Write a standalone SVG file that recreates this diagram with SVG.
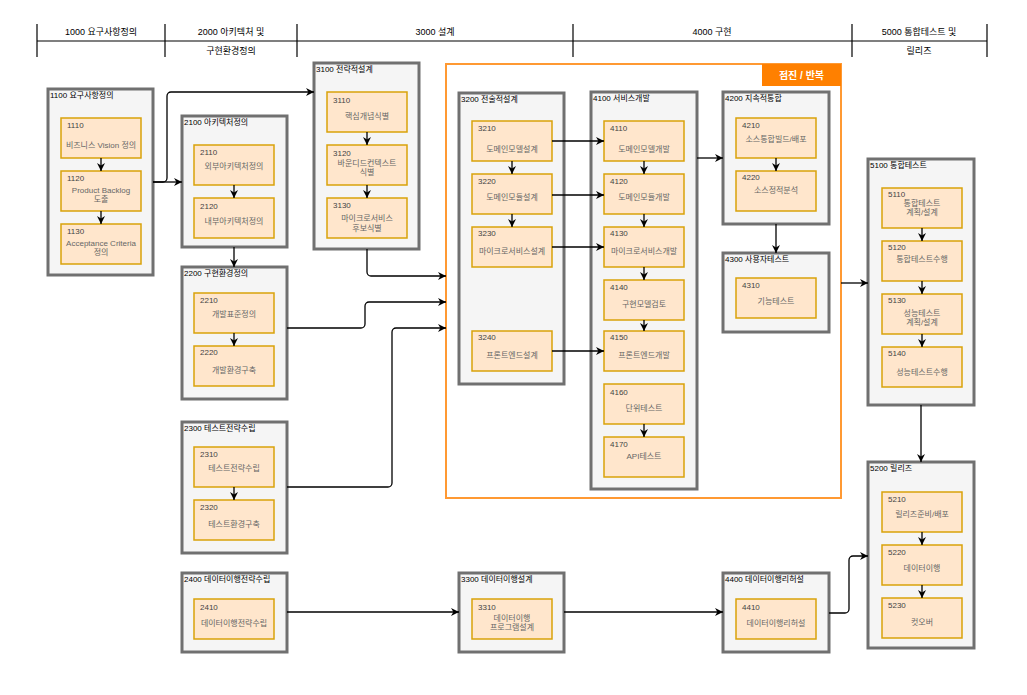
<svg xmlns="http://www.w3.org/2000/svg" width="1027" height="695" viewBox="0 0 1027 695">
  <style>
    text { font-family: "Liberation Sans", "Noto Sans CJK KR", sans-serif; dominant-baseline: central; }
    .hdr { font-size: 9px; fill: #000; text-anchor: middle; }
    .hline { stroke: #000; stroke-width: 1.2; fill: none; }
    .grp { fill: #f5f5f5; stroke: #707070; stroke-width: 3; }
    .gt { font-size: 8px; fill: #000; }
    .box { fill: #ffe6cc; stroke: #d9a20a; stroke-width: 1.5; }
    .num { font-size: 8px; fill: #444; }
    .lbl { font-size: 8px; fill: #666; text-anchor: middle; }
    .edge { stroke: #000; stroke-width: 1.3; fill: none; marker-end: url(#arrow); }
    .frame { fill: none; stroke: #ff9933; stroke-width: 2; }
    .tag { fill: #ff8000; }
    .tagt { font-size: 10px; font-weight: bold; fill: #fff; text-anchor: middle; }
  </style>
  <defs>
    <marker id="arrow" viewBox="0 0 10 10" refX="10" refY="5" markerWidth="8" markerHeight="8" markerUnits="userSpaceOnUse" orient="auto">
      <path d="M0,0 L10,5 L0,10 L3,5 z" fill="#000"/>
    </marker>
  </defs>
  <rect width="1027" height="695" fill="#fff"/>

  <!-- phase header -->
  <g id="header">
    <line class="hline" x1="37" y1="41" x2="987" y2="41"/>
    <line class="hline" x1="37" y1="24" x2="37" y2="57"/>
    <line class="hline" x1="165" y1="24" x2="165" y2="57"/>
    <line class="hline" x1="297" y1="24" x2="297" y2="57"/>
    <line class="hline" x1="573" y1="24" x2="573" y2="57"/>
    <line class="hline" x1="852" y1="24" x2="852" y2="57"/>
    <line class="hline" x1="987" y1="24" x2="987" y2="57"/>
    <text class="hdr" x="101" y="32">1000 요구사항정의</text>
    <text class="hdr" x="231" y="32">2000 아키텍처 및</text>
    <text class="hdr" x="231" y="51">구현환경정의</text>
    <text class="hdr" x="435" y="32">3000 설계</text>
    <text class="hdr" x="712" y="32">4000 구현</text>
    <text class="hdr" x="919" y="32">5000 통합테스트 및</text>
    <text class="hdr" x="919" y="51">릴리즈</text>
  </g>

  <!-- incremental / iterative frame -->
  <g id="iteration-frame">
    <rect class="frame" x="446" y="64" width="395" height="434"/>
    <rect class="tag" x="762" y="64" width="79" height="22"/>
    <text class="tagt" x="801.5" y="75">점진 / 반복</text>
  </g>

  <!-- 1000 -->
  <g id="g1100">
    <rect class="grp" x="48" y="89" width="105" height="186"/>
    <text class="gt" x="50" y="95">1100 요구사항정의</text>
    <g id="n1110"><rect class="box" x="61" y="118" width="80" height="40"/><text class="num" x="67" y="125">1110</text><text class="lbl" x="101" y="145">비즈니스 Vision 정의</text></g>
    <g id="n1120"><rect class="box" x="61" y="171" width="80" height="40"/><text class="num" x="67" y="178">1120</text><text class="lbl" x="101" y="190">Product Backlog</text><text class="lbl" x="101" y="199">도출</text></g>
    <g id="n1130"><rect class="box" x="61" y="224" width="80" height="40"/><text class="num" x="67" y="231">1130</text><text class="lbl" x="101" y="243">Acceptance Criteria</text><text class="lbl" x="101" y="252">정의</text></g>
  </g>

  <!-- 2000 -->
  <g id="g2100">
    <rect class="grp" x="182" y="116" width="105" height="131"/>
    <text class="gt" x="184" y="122">2100 아키텍처정의</text>
    <g id="n2110"><rect class="box" x="194" y="145" width="80" height="40"/><text class="num" x="200" y="152">2110</text><text class="lbl" x="234" y="166">외부아키텍처정의</text></g>
    <g id="n2120"><rect class="box" x="194" y="198" width="80" height="40"/><text class="num" x="200" y="206">2120</text><text class="lbl" x="234" y="221">내부아키텍처정의</text></g>
  </g>
  <g id="g2200">
    <rect class="grp" x="182" y="267" width="105" height="132"/>
    <text class="gt" x="184" y="273">2200 구현환경정의</text>
    <g id="n2210"><rect class="box" x="194" y="293" width="80" height="40"/><text class="num" x="200" y="300">2210</text><text class="lbl" x="234" y="314">개발표준정의</text></g>
    <g id="n2220"><rect class="box" x="194" y="346" width="80" height="40"/><text class="num" x="200" y="352">2220</text><text class="lbl" x="234" y="370">개발환경구축</text></g>
  </g>
  <g id="g2300">
    <rect class="grp" x="182" y="422" width="105" height="131"/>
    <text class="gt" x="184" y="428">2300 테스트전략수립</text>
    <g id="n2310"><rect class="box" x="194" y="447" width="80" height="40"/><text class="num" x="200" y="454">2310</text><text class="lbl" x="234" y="468">테스트전략수립</text></g>
    <g id="n2320"><rect class="box" x="194" y="500" width="80" height="40"/><text class="num" x="200" y="507">2320</text><text class="lbl" x="234" y="524">테스트환경구축</text></g>
  </g>
  <g id="g2400">
    <rect class="grp" x="182" y="573" width="105" height="79"/>
    <text class="gt" x="184" y="579">2400 데이터이행전략수립</text>
    <g id="n2410"><rect class="box" x="194" y="599" width="80" height="40"/><text class="num" x="200" y="607">2410</text><text class="lbl" x="234" y="623">데이터이행전략수립</text></g>
  </g>

  <!-- 3000 -->
  <g id="g3100">
    <rect class="grp" x="314" y="63" width="105" height="186"/>
    <text class="gt" x="316" y="69">3100 전략적설계</text>
    <g id="n3110"><rect class="box" x="327" y="92" width="80" height="40"/><text class="num" x="333" y="100">3110</text><text class="lbl" x="367" y="116">핵심개념식별</text></g>
    <g id="n3120"><rect class="box" x="327" y="145" width="80" height="40"/><text class="num" x="333" y="153">3120</text><text class="lbl" x="367" y="163">바운디드컨텍스트</text><text class="lbl" x="367" y="172">식별</text></g>
    <g id="n3130"><rect class="box" x="327" y="198" width="80" height="40"/><text class="num" x="333" y="205">3130</text><text class="lbl" x="367" y="218">마이크로서비스</text><text class="lbl" x="367" y="228">후보식별</text></g>
  </g>
  <g id="g3200">
    <rect class="grp" x="459" y="93" width="105" height="291"/>
    <text class="gt" x="461" y="99">3200 전술적설계</text>
    <g id="n3210"><rect class="box" x="472" y="121" width="80" height="40"/><text class="num" x="478" y="128">3210</text><text class="lbl" x="512" y="149">도메인모델설계</text></g>
    <g id="n3220"><rect class="box" x="472" y="174" width="80" height="40"/><text class="num" x="478" y="181">3220</text><text class="lbl" x="512" y="197">도메인모듈설계</text></g>
    <g id="n3230"><rect class="box" x="472" y="227" width="80" height="40"/><text class="num" x="478" y="233">3230</text><text class="lbl" x="512" y="251">마이크로서비스설계</text></g>
    <g id="n3240"><rect class="box" x="472" y="331" width="80" height="40"/><text class="num" x="478" y="337">3240</text><text class="lbl" x="512" y="355">프론트엔드설계</text></g>
  </g>
  <g id="g3300">
    <rect class="grp" x="459" y="573" width="105" height="79"/>
    <text class="gt" x="461" y="579">3300 데이터이행설계</text>
    <g id="n3310"><rect class="box" x="472" y="599" width="80" height="40"/><text class="num" x="478" y="607">3310</text><text class="lbl" x="512" y="618">데이터이행</text><text class="lbl" x="512" y="627">프로그램설계</text></g>
  </g>

  <!-- 4000 -->
  <g id="g4100">
    <rect class="grp" x="591" y="92" width="106" height="397"/>
    <text class="gt" x="593" y="98">4100 서비스개발</text>
    <g id="n4110"><rect class="box" x="604" y="121" width="80" height="40"/><text class="num" x="610" y="128">4110</text><text class="lbl" x="644" y="149">도메인모델개발</text></g>
    <g id="n4120"><rect class="box" x="604" y="174" width="80" height="40"/><text class="num" x="610" y="181">4120</text><text class="lbl" x="644" y="197">도메인모듈개발</text></g>
    <g id="n4130"><rect class="box" x="604" y="227" width="80" height="40"/><text class="num" x="610" y="233">4130</text><text class="lbl" x="644" y="251">마이크로서비스개발</text></g>
    <g id="n4140"><rect class="box" x="604" y="280" width="80" height="40"/><text class="num" x="610" y="287">4140</text><text class="lbl" x="644" y="304">구현모델검토</text></g>
    <g id="n4150"><rect class="box" x="604" y="331" width="80" height="40"/><text class="num" x="610" y="337">4150</text><text class="lbl" x="644" y="355">프론트엔드개발</text></g>
    <g id="n4160"><rect class="box" x="604" y="384" width="80" height="40"/><text class="num" x="610" y="392">4160</text><text class="lbl" x="644" y="408">단위테스트</text></g>
    <g id="n4170"><rect class="box" x="604" y="437" width="80" height="40"/><text class="num" x="610" y="444">4170</text><text class="lbl" x="644" y="456">API테스트</text></g>
  </g>
  <g id="g4200">
    <rect class="grp" x="723" y="92" width="106" height="132"/>
    <text class="gt" x="725" y="98">4200 지속적통합</text>
    <g id="n4210"><rect class="box" x="736" y="118" width="80" height="40"/><text class="num" x="742" y="125">4210</text><text class="lbl" x="776" y="139">소스통합빌드/배포</text></g>
    <g id="n4220"><rect class="box" x="736" y="171" width="80" height="40"/><text class="num" x="742" y="177">4220</text><text class="lbl" x="776" y="190">소스정적분석</text></g>
  </g>
  <g id="g4300">
    <rect class="grp" x="723" y="253" width="106" height="79"/>
    <text class="gt" x="725" y="259">4300 사용자테스트</text>
    <g id="n4310"><rect class="box" x="736" y="278" width="80" height="40"/><text class="num" x="742" y="285">4310</text><text class="lbl" x="776" y="301">기능테스트</text></g>
  </g>
  <g id="g4400">
    <rect class="grp" x="723" y="573" width="106" height="79"/>
    <text class="gt" x="725" y="579">4400 데이터이행리허설</text>
    <g id="n4410"><rect class="box" x="736" y="599" width="80" height="40"/><text class="num" x="742" y="607">4410</text><text class="lbl" x="776" y="623">데이터이행리허설</text></g>
  </g>

  <!-- 5000 -->
  <g id="g5100">
    <rect class="grp" x="868" y="159" width="106" height="246"/>
    <text class="gt" x="870" y="165">5100 통합테스트</text>
    <g id="n5110"><rect class="box" x="882" y="188" width="80" height="40"/><text class="num" x="888" y="194">5110</text><text class="lbl" x="922" y="203">통합테스트</text><text class="lbl" x="922" y="212">계획/설계</text></g>
    <g id="n5120"><rect class="box" x="882" y="241" width="80" height="40"/><text class="num" x="888" y="247">5120</text><text class="lbl" x="922" y="259">통합테스트수행</text></g>
    <g id="n5130"><rect class="box" x="882" y="294" width="80" height="40"/><text class="num" x="888" y="300">5130</text><text class="lbl" x="922" y="313">성능테스트</text><text class="lbl" x="922" y="322">계획/설계</text></g>
    <g id="n5140"><rect class="box" x="882" y="347" width="80" height="40"/><text class="num" x="888" y="353">5140</text><text class="lbl" x="922" y="372">성능테스트수행</text></g>
  </g>
  <g id="g5200">
    <rect class="grp" x="868" y="462" width="106" height="186"/>
    <text class="gt" x="870" y="468">5200 릴리즈</text>
    <g id="n5210"><rect class="box" x="882" y="492" width="80" height="40"/><text class="num" x="888" y="499">5210</text><text class="lbl" x="922" y="514">릴리즈준비/배포</text></g>
    <g id="n5220"><rect class="box" x="882" y="545" width="80" height="40"/><text class="num" x="888" y="552">5220</text><text class="lbl" x="922" y="568">데이터이행</text></g>
    <g id="n5230"><rect class="box" x="882" y="598" width="80" height="40"/><text class="num" x="888" y="605">5230</text><text class="lbl" x="922" y="622">컷오버</text></g>
  </g>

  <!-- connectors -->
  <g id="connectors">
    <!-- inside groups -->
    <path class="edge" d="M101,158 V171"/>
    <path class="edge" d="M101,211 V224"/>
    <path class="edge" d="M234,185 V198"/>
    <path class="edge" d="M234,333 V346"/>
    <path class="edge" d="M234,487 V500"/>
    <path class="edge" d="M367,132 V145"/>
    <path class="edge" d="M367,185 V198"/>
    <path class="edge" d="M512,161 V174"/>
    <path class="edge" d="M512,214 V227"/>
    <path class="edge" d="M644,161 V174"/>
    <path class="edge" d="M644,214 V227"/>
    <path class="edge" d="M644,267 V280"/>
    <path class="edge" d="M644,320 V331"/>
    <path class="edge" d="M644,424 V437"/>
    <path class="edge" d="M776,158 V171"/>
    <path class="edge" d="M922,228 V241"/>
    <path class="edge" d="M922,281 V294"/>
    <path class="edge" d="M922,334 V347"/>
    <path class="edge" d="M922,532 V545"/>
    <path class="edge" d="M922,585 V598"/>
    <!-- between groups -->
    <path class="edge" d="M153,182 H182"/>
    <path class="edge" d="M153,182 H163 a4,4 0 0 0 4,-4 V96 a4,4 0 0 1 4,-4 H314"/>
    <path class="edge" d="M234,247 V267"/>
    <path class="edge" d="M367,249 V272 a4,4 0 0 0 4,4 H446"/>
    <path class="edge" d="M287,328 H361 a4,4 0 0 0 4,-4 V306 a4,4 0 0 1 4,-4 H446"/>
    <path class="edge" d="M287,487 H388 a4,4 0 0 0 4,-4 V332 a4,4 0 0 1 4,-4 H446"/>
    <path class="edge" d="M552,141 H604"/>
    <path class="edge" d="M552,195 H604"/>
    <path class="edge" d="M552,247 H604"/>
    <path class="edge" d="M552,351 H604"/>
    <path class="edge" d="M697,158 H723"/>
    <path class="edge" d="M776,224 V253"/>
    <path class="edge" d="M841,283 H868"/>
    <path class="edge" d="M921,405 V462"/>
    <path class="edge" d="M287,612 H459"/>
    <path class="edge" d="M564,612 H723"/>
    <path class="edge" d="M829,613 H845 a4,4 0 0 0 4,-4 V560 a4,4 0 0 1 4,-4 H868"/>
  </g>
</svg>
